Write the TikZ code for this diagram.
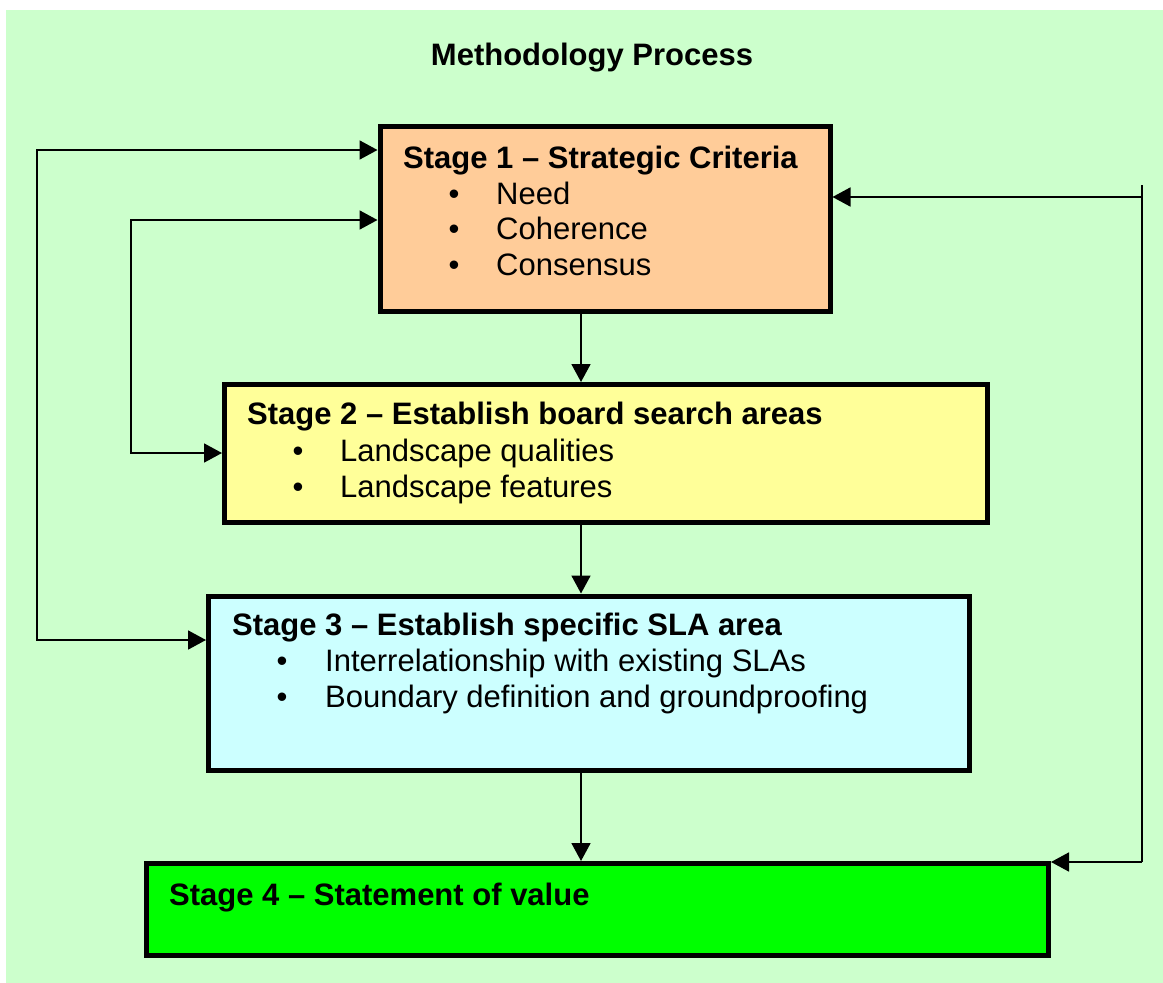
\documentclass[tikz,border=0pt]{standalone}
\usepackage{fontspec}
\setmainfont{Liberation Sans}
\usetikzlibrary{arrows.meta,calc}
\definecolor{bggreen}{HTML}{CCFFCC}
\definecolor{s1col}{HTML}{FFCC99}
\definecolor{s2col}{HTML}{FFFF99}
\definecolor{s3col}{HTML}{CCFFFF}
\definecolor{s4col}{HTML}{00FF00}
\tikzset{
  stagebox/.style={draw=black,line width=5pt,rectangle,inner sep=0pt,outer sep=0pt,anchor=north west},
  conn/.style={line width=1.8pt,draw=black},
  tip/.style={-{Triangle[length=18pt,width=19pt]},shorten >=2.5pt},
  tips/.style={{Triangle[length=18pt,width=19pt]}-{Triangle[length=18pt,width=19pt]},shorten >=2.5pt,shorten <=2.5pt},
  txt/.style={anchor=base west,inner sep=0pt,font=\fontsize{31}{37}\selectfont},
  btxt/.style={txt,font=\fontsize{31}{37}\selectfont\bfseries},
  bul/.style={anchor=base,inner sep=0pt,font=\fontsize{31}{37}\selectfont}
}
\begin{document}
\begin{tikzpicture}[x=1pt,y=-1pt]
\useasboundingbox (0,0) rectangle (1163,983);
\fill[bggreen] (6,10) rectangle (1163,983);

\node[btxt,anchor=base] (title) at (592,65) {Methodology Process};

% boxes
\node[stagebox,fill=s1col,minimum width=450pt,minimum height=185pt] (s1) at (380,126.5) {};
\node[stagebox,fill=s2col,minimum width=763pt,minimum height=138pt] (s2) at (224.5,384.5) {};
\node[stagebox,fill=s3col,minimum width=761pt,minimum height=174pt] (s3) at (208.5,596) {};
\node[stagebox,fill=s4col,minimum width=902pt,minimum height=92pt] (s4) at (146.5,863.5) {};

% stage 1 text
\node[btxt] (h1) at (403,168) {Stage 1 – Strategic Criteria};
\node[bul] (b11) at (454,204) {•};
\node[txt] (t11) at (496,204) {Need};
\node[bul] (b12) at (454,239) {•};
\node[txt] (t12) at (496,239) {Coherence};
\node[bul] (b13) at (454,275) {•};
\node[txt] (t13) at (496,275) {Consensus};

% stage 2 text
\node[btxt] (h2) at (247,424) {Stage 2 – Establish board search areas};
\node[bul] (b21) at (298,461) {•};
\node[txt] (t21) at (340,461) {Landscape qualities};
\node[bul] (b22) at (298,497) {•};
\node[txt] (t22) at (340,497) {Landscape features};

% stage 3 text
\node[btxt] (h3) at (232,635) {Stage 3 – Establish specific SLA area};
\node[bul] (b31) at (282,671) {•};
\node[txt] (t31) at (325,671) {Interrelationship with existing SLAs};
\node[bul] (b32) at (282,707) {•};
\node[txt] (t32) at (325,707) {Boundary definition and groundproofing};

% stage 4 text
\node[btxt] (h4) at (169,905) {Stage 4 – Statement of value};

% connector guide coordinates
\coordinate (mid) at (581,0);
\coordinate (L1) at (37,150);
\coordinate (L2) at (37,640);
\coordinate (M1) at (131,220);
\coordinate (M2) at (131,453);
\coordinate (R0) at (1142,185);
\coordinate (R1) at (1142,197);
\coordinate (R2) at (1142,862);

% vertical flow
\draw[conn,tip] (mid |- s1.south) -- (mid |- s2.north);
\draw[conn,tip] (mid |- s2.south) -- (mid |- s3.north);
\draw[conn,tip] (mid |- s3.south) -- (mid |- s4.north);

% left feedback loops
\draw[conn,tips] (s1.west |- L1) -- (L1) -- (L2) -- (s3.west |- L2);
\draw[conn,tips] (s1.west |- M1) -- (M1) -- (M2) -- (s2.west |- M2);

% right loop
\draw[conn] (R0) -- (R2);
\draw[conn,tip] (R1) -- (s1.east |- R1);
\draw[conn,tip] (R2) -- (s4.north east |- R2);
\end{tikzpicture}
\end{document}
